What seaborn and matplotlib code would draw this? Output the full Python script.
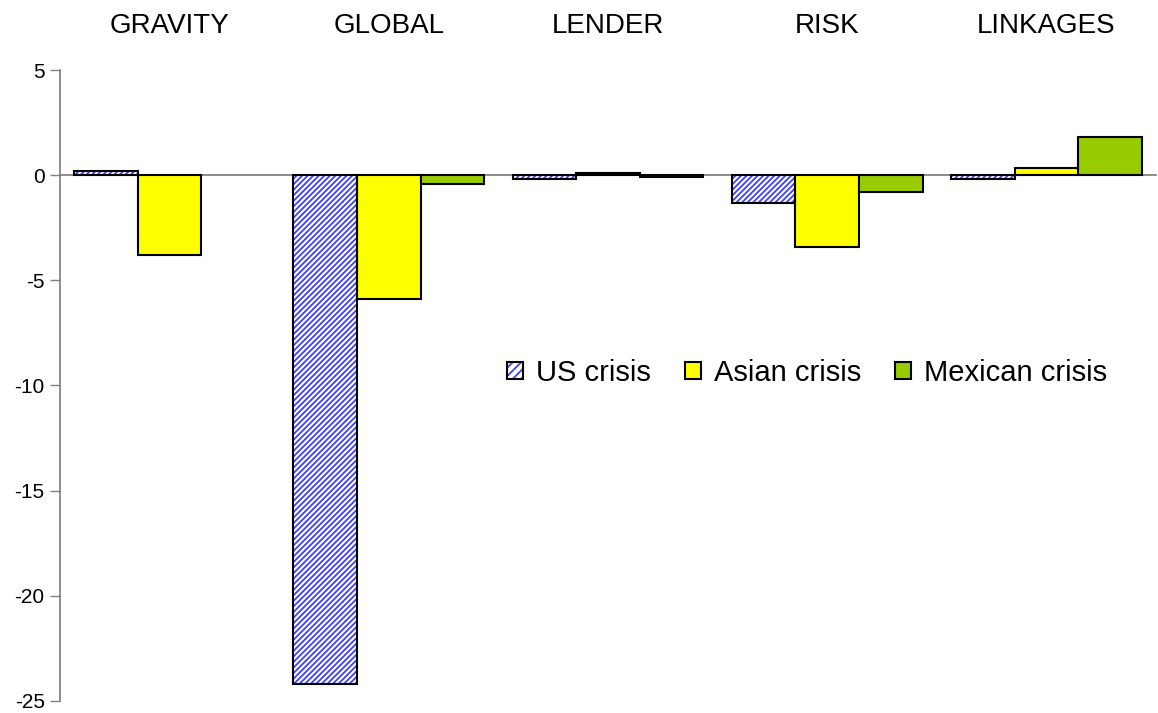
import numpy as np
import pandas as pd
import matplotlib
matplotlib.use("Agg")
import matplotlib.pyplot as plt
from matplotlib.patches import Patch, Rectangle
from matplotlib.legend_handler import HandlerTuple
import seaborn as sns

categories = ["GRAVITY", "GLOBAL", "LENDER", "RISK", "LINKAGES"]
series = ["US crisis", "Asian crisis", "Mexican crisis"]
us_crisis = [0.2, -24.2, -0.2, -1.3, -0.2]
asian_crisis = [-3.8, -5.9, 0.1, -3.4, 0.35]
mexican_crisis = [0.0, -0.4, -0.1, -0.8, 1.8]
y_ticks = [5, 0, -5, -10, -15, -20, -25]

HATCH_BLUE = "#3f3fff"
HATCH = "//////"
colors = {"US crisis": "white", "Asian crisis": "#ffff00", "Mexican crisis": "#99cc00"}

df = pd.DataFrame({
    "factor": categories * 3,
    "crisis": [s for s in series for _ in categories],
    "value": us_crisis + asian_crisis + mexican_crisis,
})

sns.set_theme(style="white")
plt.rcParams["font.family"] = ["Liberation Sans", "DejaVu Sans"]
plt.rcParams["hatch.linewidth"] = 1.3
plt.rcParams["axes.unicode_minus"] = False
plt.rcParams["text.color"] = "black"
plt.rcParams["xtick.labelcolor"] = "black"
plt.rcParams["ytick.labelcolor"] = "black"

fig = plt.figure(figsize=(11.58, 7.13), dpi=100)
ax = fig.add_axes([60 / 1158, 1 - 701 / 713, 1096 / 1158, 631 / 713])

sns.barplot(data=df, x="factor", y="value", hue="crisis", order=categories,
            hue_order=series, palette=colors, width=0.87, edgecolor="black",
            linewidth=1.5, saturation=1, legend=False, ax=ax)

# Hatched US bars: blue diagonal stripes, black outline drawn on top
n = len(categories)
bars = list(ax.patches)
for i, p in enumerate(bars):
    if p.get_height() == 0:
        p.set_linewidth(0)
    if i < n:
        p.set_edgecolor(HATCH_BLUE)
        p.set_hatch(HATCH)
        p.set_linewidth(0)
        ax.add_patch(Rectangle(p.get_xy(), p.get_width(), p.get_height(),
                               fill=False, edgecolor="black", linewidth=1.5,
                               zorder=p.get_zorder() + 0.1))

ax.set_ylim(-25, 5)
ax.set_xlim(-0.5, n - 0.5)
ax.set_yticks(y_ticks)
ax.set_xlabel("")
ax.set_ylabel("")

for side in ["top", "right"]:
    ax.spines[side].set_visible(False)
ax.spines["bottom"].set_position(("data", 0))
ax.spines["bottom"].set_color("#808080")
ax.spines["left"].set_color("#808080")
ax.spines["bottom"].set_zorder(0.5)

# Category boundaries as ticks on the zero line, names along the top
ax.set_xticks(np.arange(-0.5, n, 1.0))
ax.set_xticks(np.arange(n), minor=True)
ax.set_xticklabels(categories, minor=True)
ax.tick_params(axis="x", which="major", direction="out", length=10, width=1,
               color="#808080", labelbottom=False)
ax.tick_params(axis="x", which="minor", length=0, bottom=False, top=False,
               labelbottom=False, labeltop=True, labelsize=20, pad=22)
ax.tick_params(axis="y", direction="out", length=7, width=1, color="#808080",
               left=True, labelsize=15, pad=4)

handles = [
    (Patch(facecolor="white", edgecolor=HATCH_BLUE, hatch="////", linewidth=0),
     Patch(fill=False, edgecolor="black", linewidth=1.5)),
    Patch(facecolor=colors["Asian crisis"], edgecolor="black", linewidth=1.5),
    Patch(facecolor=colors["Mexican crisis"], edgecolor="black", linewidth=1.5),
]
fig.legend(handles, series, loc="center left", bbox_to_anchor=(507 / 1158, 1 - 373 / 713),
           ncol=3, frameon=False, fontsize=21, handlelength=0.55, handleheight=0.55,
           handletextpad=0.45, columnspacing=1.15, borderpad=0, borderaxespad=0,
           handler_map={tuple: HandlerTuple(ndivide=1, pad=0)})

fig.savefig("out.png", dpi=100)
